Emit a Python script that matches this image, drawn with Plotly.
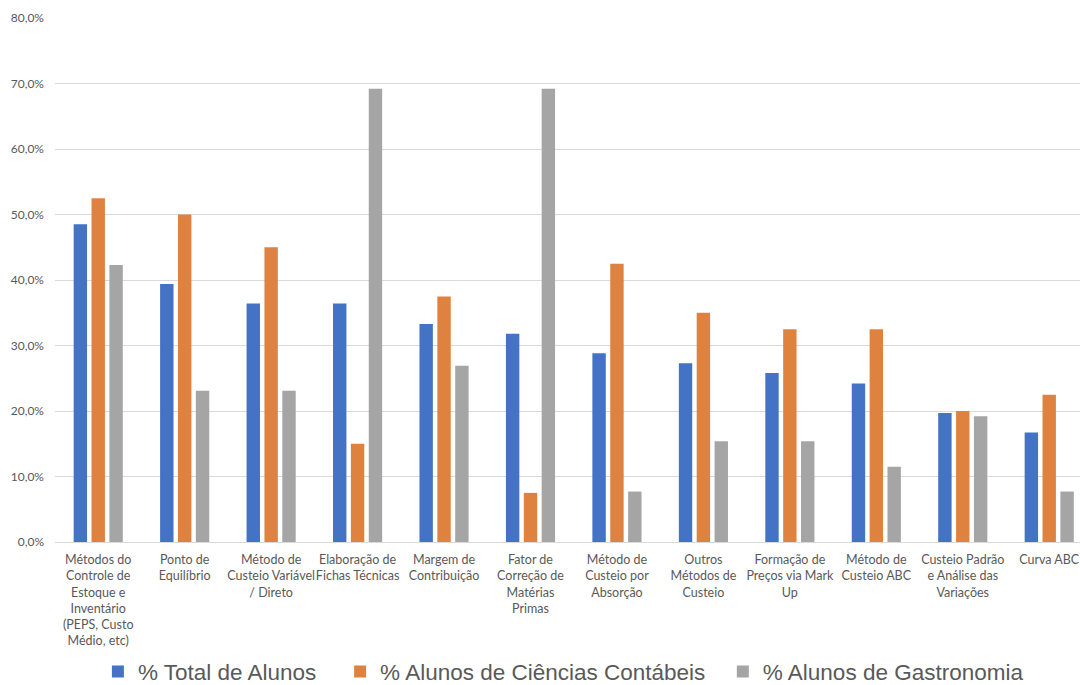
import plotly.graph_objects as go

categories = [
    "Métodos do<br>Controle de<br>Estoque e<br>Inventário<br>(PEPS, Custo<br>Médio, etc)",
    "Ponto de<br>Equilíbrio",
    "Método de<br>Custeio Variável<br>/ Direto",
    "Elaboração de<br>Fichas Técnicas",
    "Margem de<br>Contribuição",
    "Fator de<br>Correção de<br>Matérias<br>Primas",
    "Método de<br>Custeio por<br>Absorção",
    "Outros<br>Métodos de<br>Custeio",
    "Formação de<br>Preços via Mark<br>Up",
    "Método de<br>Custeio ABC",
    "Custeio Padrão<br>e Análise das<br>Variações",
    "Curva ABC",
]

total_alunos = [48.5, 39.4, 36.4, 36.4, 33.3, 31.8, 28.8, 27.3, 25.8, 24.2, 19.7, 16.7]
ciencias_contabeis = [52.5, 50.0, 45.0, 15.0, 37.5, 7.5, 42.5, 35.0, 32.5, 32.5, 20.0, 22.5]
gastronomia = [42.3, 23.1, 23.1, 69.2, 26.9, 69.2, 7.7, 15.4, 15.4, 11.5, 19.2, 7.7]

series_names = ["% Total de Alunos\u00a0\u00a0\u00a0", "% Alunos de Ciências Contábeis\u00a0\u00a0", "% Alunos de Gastronomia"]
colors = ["#4472C4", "#E0823F", "#A5A5A5"]

y_tick_vals = [0, 10, 20, 30, 40, 50, 60, 70, 80]
y_tick_text = ["0,0%", "10,0%", "20,0%", "30,0%", "40,0%", "50,0%", "60,0%", "70,0%", "80,0%"]

fig = go.Figure()
for name, vals, col in zip(series_names, [total_alunos, ciencias_contabeis, gastronomia], colors):
    fig.add_trace(go.Bar(
        x=list(range(len(categories))), y=vals, name=name,
        marker=dict(color=col, line=dict(width=0)),
    ))

fig.update_layout(
    width=1080, height=685,
    margin=dict(l=55, r=0, t=18, b=143, autoexpand=False),
    paper_bgcolor="white", plot_bgcolor="white",
    barmode="group", bargap=0.38, bargroupgap=0.25,
    font=dict(family="Lato, Liberation Sans, sans-serif", color="#595959"),
    legend=dict(
        orientation="h", x=0.496, xanchor="center", y=-0.248, yanchor="middle",
        font=dict(family="Liberation Sans, Arial, sans-serif", size=22.5, color="#595959"),
        itemwidth=30, tracegroupgap=0,
    ),
    xaxis=dict(
        tickmode="array", tickvals=list(range(len(categories))), ticktext=categories,
        range=[-0.5, 11.356], tickangle=0, showgrid=False,
        showline=True, linecolor="#D9D9D9", linewidth=1,
        tickfont=dict(size=12.5, color="#595959"), ticks="", ticklabelstandoff=6,
    ),
    yaxis=dict(
        range=[0, 80], tickmode="array", tickvals=y_tick_vals, ticktext=y_tick_text,
        showgrid=True, gridcolor="#D9D9D9", gridwidth=1, zeroline=False,
        tickfont=dict(size=12, color="#595959"), ticks="", showline=False,
        ticklabelstandoff=10,
    ),
)

fig.write_html("out.html")
